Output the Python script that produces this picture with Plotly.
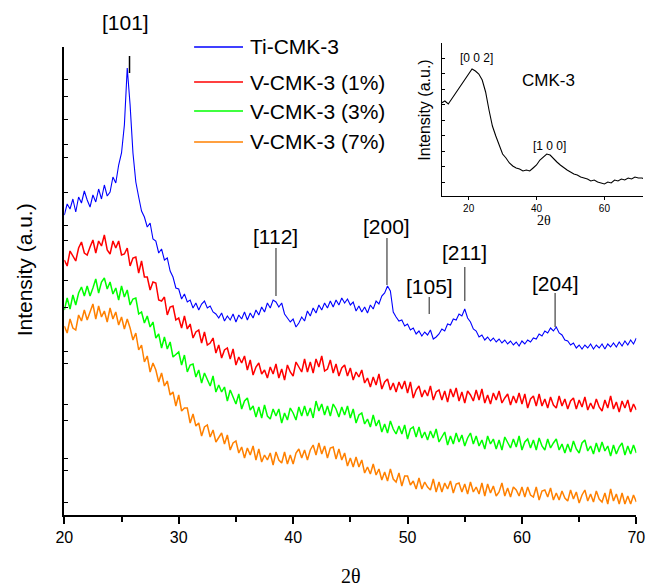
import plotly.graph_objects as go

# ---------------- data ----------------
two_theta_start = 20.0
two_theta_step = 0.25

ti_cmk3 = [300, 311, 306, 316, 303, 318, 312, 324, 315, 308, 320, 313, 326, 316, 330, 319,
           323, 338, 332, 350, 362, 390, 447, 410, 362, 333, 318, 304, 298, 288, 292, 276,
           274, 262, 266, 255, 257, 244, 238, 227, 226, 216, 221, 213, 215, 207, 212, 205,
           211, 214, 207, 209, 203, 201, 197, 202, 194, 199, 195, 201, 193, 200, 196, 203,
           195, 202, 197, 205, 200, 208, 203, 212, 207, 215, 213, 208, 212, 201, 197, 193,
           196, 188, 192, 198, 194, 204, 199, 207, 202, 210, 205, 212, 207, 214, 208, 215,
           210, 217, 212, 216, 210, 213, 204, 209, 203, 208, 202, 210, 206, 214, 211, 219,
           222, 229, 224, 203, 198, 194, 195, 189, 191, 185, 187, 181, 184, 179, 183, 180,
           185, 176, 178, 181, 186, 184, 191, 190, 196, 195, 201, 199, 206, 197, 193, 186,
           184, 178, 180, 175, 178, 174, 177, 173, 176, 172, 175, 171, 174, 170, 173, 169,
           174, 171, 175, 173, 177, 176, 181, 179, 184, 182, 187, 184, 188, 182, 180, 175,
           174, 170, 172, 167, 170, 166, 170, 167, 171, 166, 170, 167, 171, 166, 171, 168,
           172, 168, 173, 169, 174, 170, 175, 171, 177]

v_cmk3_1 = [255, 249, 264, 259, 254, 267, 273, 262, 260, 268, 275, 262, 274, 269, 280, 265,
            261, 274, 267, 274, 260, 261, 267, 249, 257, 258, 242, 254, 238, 238, 225, 233,
            232, 215, 214, 218, 200, 208, 209, 195, 197, 187, 199, 186, 191, 177, 183, 185,
            172, 183, 170, 172, 177, 162, 170, 157, 165, 167, 156, 166, 150, 158, 152, 159,
            145, 155, 140, 148, 152, 141, 145, 137, 148, 141, 151, 137, 146, 135, 150, 143,
            139, 153, 148, 143, 156, 143, 153, 142, 156, 148, 159, 144, 146, 155, 142, 151,
            139, 147, 150, 139, 147, 135, 143, 138, 145, 132, 137, 128, 138, 130, 141, 126,
            133, 136, 125, 132, 123, 133, 126, 134, 122, 133, 117, 125, 129, 118, 125, 119,
            129, 115, 123, 125, 115, 124, 113, 126, 118, 127, 114, 123, 112, 124, 120, 114,
            125, 115, 126, 112, 120, 111, 122, 115, 124, 112, 117, 121, 110, 119, 112, 122,
            111, 121, 107, 116, 119, 109, 121, 109, 116, 107, 118, 110, 107, 119, 109, 116,
            106, 114, 117, 106, 115, 108, 118, 105, 112, 106, 116, 108, 104, 115, 107, 119,
            106, 113, 103, 114, 107, 115, 103, 111, 105]

v_cmk3_3 = [205, 217, 206, 220, 210, 222, 228, 219, 229, 219, 227, 236, 222, 233, 237, 226,
            233, 221, 227, 215, 229, 218, 225, 210, 216, 217, 201, 203, 192, 199, 188, 193,
            177, 181, 167, 178, 166, 173, 158, 161, 163, 150, 160, 143, 150, 151, 138, 145,
            132, 142, 136, 129, 139, 123, 130, 123, 128, 114, 125, 118, 111, 121, 106, 114,
            117, 105, 109, 98, 108, 97, 110, 99, 96, 106, 99, 106, 92, 102, 95, 107,
            102, 95, 108, 99, 109, 99, 107, 97, 114, 104, 111, 100, 109, 99, 111, 106,
            98, 108, 100, 109, 97, 106, 92, 100, 102, 91, 96, 88, 100, 89, 95, 83,
            91, 82, 94, 86, 81, 89, 81, 90, 76, 86, 88, 78, 88, 77, 83, 75,
            84, 77, 86, 73, 78, 83, 70, 79, 71, 82, 73, 80, 69, 77, 82, 71,
            79, 69, 75, 66, 79, 71, 76, 66, 75, 65, 78, 73, 67, 76, 68, 79,
            65, 73, 76, 67, 75, 65, 77, 69, 65, 76, 67, 72, 76, 65, 71, 62,
            71, 63, 74, 66, 62, 72, 75, 64, 69, 61, 72, 63, 73, 64, 69, 59,
            70, 61, 68, 72, 60, 69, 61, 70, 62]

v_cmk3_7 = [189, 182, 196, 187, 185, 200, 194, 205, 195, 204, 211, 196, 209, 198, 204, 193,
            207, 196, 203, 190, 198, 186, 196, 187, 175, 182, 165, 170, 153, 159, 143, 152,
            145, 133, 142, 129, 134, 120, 123, 109, 120, 104, 107, 107, 92, 101, 89, 92,
            79, 88, 90, 78, 85, 73, 78, 82, 71, 80, 65, 72, 74, 62, 68, 57,
            67, 60, 69, 55, 66, 53, 60, 55, 62, 50, 63, 55, 52, 63, 51, 60,
            51, 62, 66, 57, 65, 55, 65, 70, 60, 72, 61, 69, 57, 67, 68, 56,
            66, 55, 62, 49, 57, 48, 58, 48, 55, 42, 48, 41, 51, 40, 46, 35,
            43, 34, 46, 36, 33, 42, 29, 39, 39, 30, 34, 26, 37, 26, 33, 28,
            25, 36, 23, 33, 23, 32, 26, 34, 22, 31, 32, 23, 31, 21, 33, 23,
            28, 21, 32, 19, 31, 22, 29, 19, 23, 32, 19, 27, 18, 28, 25, 19,
            28, 18, 28, 20, 18, 28, 15, 24, 25, 18, 27, 15, 22, 15, 24, 17,
            14, 25, 16, 23, 12, 20, 25, 14, 21, 13, 24, 16, 13, 22, 11, 26,
            14, 21, 11, 22, 11, 19, 11, 20, 13]

series_names = ["Ti-CMK-3", "V-CMK-3 (1%)", "V-CMK-3 (3%)", "V-CMK-3 (7%)"]
series_values = [ti_cmk3, v_cmk3_1, v_cmk3_3, v_cmk3_7]
series_colors = ["#0000FF", "#FF0000", "#00FF00", "#FF8000"]
series_widths = [1.1, 1.5, 1.5, 1.5]

# peak labels: label, 2theta position, marker-line bottom/top and label height (intensity units)
peak_labels = ["[112]", "[200]", "[105]", "[211]", "[204]"]
peak_pos = [38.5, 48.2, 51.9, 55.0, 62.9]
peak_line_lo = [219, 230, 201, 214, 188]
peak_line_hi = [267, 277, 218, 248, 222]
peak_text_y = [278, 288, 229, 262, 232]

# inset CMK-3
inset_two_theta = list(range(12, 75))
inset_cmk3 = [93, 95, 92, 97, 101, 106, 112, 117, 122, 127, 125, 122, 116, 104, 86, 70,
              60, 51, 42, 38, 33, 30, 28, 27, 25, 26, 25, 28, 31, 36, 39, 42,
              41, 37, 34, 31, 28, 26, 24, 22, 21, 19, 18, 17, 15, 16, 14, 13,
              12, 14, 13, 16, 15, 17, 16, 18, 17, 19, 18, 18, 17, 19, 18]

# ---------------- figure ----------------
W, H = 652, 587
# the page is photographed slightly compressed horizontally (x' = 0.974 x + 7.6);
# positions are given in target-picture pixels and mapped back here.
SX, BX = 0.974, 7.6


def px_x(p):
    return ((p - BX) / SX) / W


def px_y(p):
    return 1 - p / H


fig = go.Figure()
for name, vals, col, lw in zip(series_names, series_values, series_colors, series_widths):
    xs = [two_theta_start + two_theta_step * i for i in range(len(vals))]
    fig.add_trace(go.Scatter(x=xs, y=vals, mode="lines", name=name,
                             line=dict(color=col, width=lw), showlegend=False,
                             xaxis="x", yaxis="y"))

fig.add_trace(go.Scatter(x=inset_two_theta, y=inset_cmk3, mode="lines", name="CMK-3",
                         line=dict(color="black", width=1.1), showlegend=False,
                         xaxis="x2", yaxis="y2"))

font_main = "Liberation Sans, Arial, sans-serif"
font_serif = "Liberation Serif, Times New Roman, serif"

y_tick_marks = [436, 419, 396, 371, 358, 323, 290, 275, 235, 208, 164, 152, 111, 95, 57, 45, 13]

inset_left_px = 441
inset_right_dom = 1.0
inset_right_px = inset_right_dom * W * SX + BX
inset_deg_per_px = 1 / 3.4
fig.update_layout(
    width=W, height=H,
    margin=dict(l=0, r=0, t=0, b=0),
    paper_bgcolor="white", plot_bgcolor="white",
    xaxis=dict(domain=[px_x(63), px_x(636)], range=[20, 70],
               showgrid=False, zeroline=False, showline=True, linecolor="black", linewidth=2,
               ticks="outside", ticklen=7, tickwidth=2, tickcolor="black",
               tickvals=[20, 30, 40, 50, 60, 70], ticklabeloverflow="allow",
               minor=dict(tickvals=[25, 35, 45, 55, 65], ticks="outside", ticklen=5,
                          tickwidth=1.5, tickcolor="black"),
               tickfont=dict(family=font_main, size=16, color="black"),
               anchor="y"),
    yaxis=dict(domain=[px_y(515), px_y(47)], range=[0, 468],
               showgrid=False, zeroline=False, showline=True, linecolor="black", linewidth=2,
               ticks="inside", ticklen=4, tickwidth=1, tickcolor="black",
               tickvals=y_tick_marks, showticklabels=False, anchor="x"),
    xaxis2=dict(domain=[px_x(inset_left_px), inset_right_dom],
                range=[20 - (468 - inset_left_px) * inset_deg_per_px,
                       20 + (inset_right_px - 468) * inset_deg_per_px],
                showgrid=False, zeroline=False, showline=True, linecolor="black", linewidth=1,
                ticks="outside", ticklen=3, tickwidth=1, tickcolor="black",
                tickvals=[20, 40, 60],
                tickfont=dict(family=font_main, size=10, color="black"),
                anchor="y2"),
    yaxis2=dict(domain=[px_y(196), px_y(43)], range=[0, 153],
                showgrid=False, zeroline=False, showline=True, linecolor="black", linewidth=1,
                ticks="inside", ticklen=3, tickwidth=1, tickcolor="black",
                tick0=14, dtick=15.5, showticklabels=False, anchor="x2"),
)

annotations = []
shapes = []

# axis titles
annotations.append(dict(text="2θ", x=px_x(350), y=px_y(576), xref="paper", yref="paper",
                        showarrow=False, font=dict(family=font_serif, size=20, color="black"),
                        xanchor="center", yanchor="middle"))
annotations.append(dict(text="Intensity (a.u.)", x=px_x(23), y=px_y(270), xref="paper", yref="paper",
                        showarrow=False, textangle=-90,
                        font=dict(family=font_main, size=21, color="black"),
                        xanchor="center", yanchor="middle"))

# [101] label (above the axis range, so placed in paper units) and its tick
annotations.append(dict(text="[101]", x=px_x(124), y=px_y(22), xref="paper", yref="paper",
                        showarrow=False, font=dict(family=font_main, size=21, color="black"),
                        xanchor="center", yanchor="middle"))
shapes.append(dict(type="line", xref="x", yref="y", x0=25.7, x1=25.7, y0=442, y1=459,
                   line=dict(color="black", width=1.5)))

for lab, xp, lo, hi, ty in zip(peak_labels, peak_pos, peak_line_lo, peak_line_hi, peak_text_y):
    shapes.append(dict(type="line", xref="x", yref="y", x0=xp, x1=xp, y0=lo, y1=hi,
                       line=dict(color="#666666", width=1.5)))
    annotations.append(dict(text=lab, x=xp, y=ty, xref="x", yref="y", showarrow=False,
                            font=dict(family=font_main, size=21, color="black"),
                            xanchor="center", yanchor="middle"))

# legend (drawn)
legend_rows = [47, 82, 111, 142]
for name, col, row in zip(series_names, series_colors, legend_rows):
    shapes.append(dict(type="line", xref="paper", yref="paper", x0=px_x(193), x1=px_x(242),
                       y0=px_y(row), y1=px_y(row), line=dict(color=col, width=1.3)))
    annotations.append(dict(text=name, x=px_x(247), y=px_y(row), xref="paper", yref="paper",
                            showarrow=False, font=dict(family=font_main, size=21, color="black"),
                            xanchor="left", yanchor="middle"))

# inset texts
annotations.append(dict(text="[0 0 2]", x=22.3, y=196 - 58, xref="x2", yref="y2", showarrow=False,
                        font=dict(family=font_main, size=12, color="black"),
                        xanchor="center", yanchor="middle"))
annotations.append(dict(text="[1 0 0]", x=43.8, y=196 - 146, xref="x2", yref="y2", showarrow=False,
                        font=dict(family=font_main, size=12, color="black"),
                        xanchor="center", yanchor="middle"))
annotations.append(dict(text="CMK-3", x=px_x(548), y=px_y(80), xref="paper", yref="paper",
                        showarrow=False, font=dict(family=font_main, size=17, color="black"),
                        xanchor="center", yanchor="middle"))
annotations.append(dict(text="Intensity (a.u.)", x=px_x(423), y=px_y(110), xref="paper", yref="paper",
                        showarrow=False, textangle=-90,
                        font=dict(family=font_main, size=16, color="black"),
                        xanchor="center", yanchor="middle"))
annotations.append(dict(text="2θ", x=px_x(543), y=px_y(221), xref="paper", yref="paper",
                        showarrow=False, font=dict(family=font_serif, size=14, color="black"),
                        xanchor="center", yanchor="middle"))

fig.update_layout(annotations=annotations, shapes=shapes)

fig.write_html("out.html")
